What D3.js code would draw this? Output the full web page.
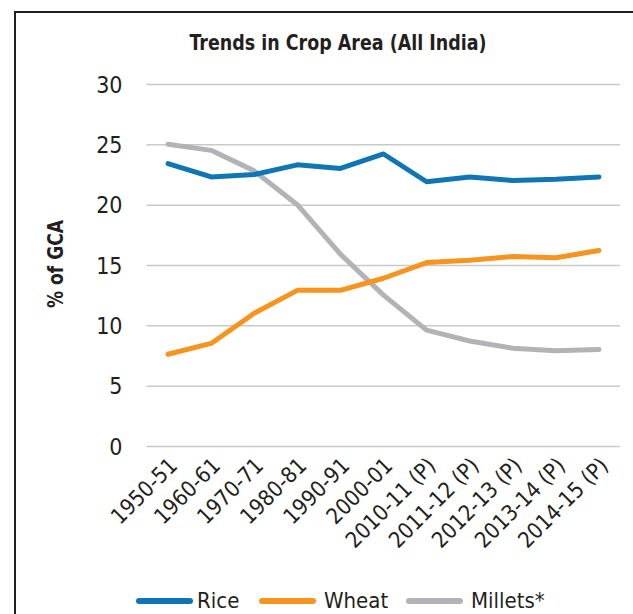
<!DOCTYPE html>
<html>
<head>
<meta charset="utf-8">
<script src="https://cdn.jsdelivr.net/npm/d3@7"></script>
<style>
  html, body { margin: 0; padding: 0; background: #fff; }
  svg { display: block; }
  text { font-family: "DejaVu Sans Condensed", "DejaVu Sans", "Liberation Sans", sans-serif; fill: #231f20; }
</style>
</head>
<body>
<svg id="chart" width="633" height="614"></svg>
<script>
const categories = ["1950-51", "1960-61", "1970-71", "1980-81", "1990-91", "2000-01",
  "2010-11 (P)", "2011-12 (P)", "2012-13 (P)", "2013-14 (P)", "2014-15 (P)"];
const rice    = [23.4, 22.3, 22.5, 23.3, 23.0, 24.2, 21.9, 22.3, 22.0, 22.1, 22.3];
const wheat   = [7.6, 8.5, 11.0, 12.9, 12.9, 13.9, 15.2, 15.4, 15.7, 15.6, 16.2];
const millets = [25.0, 24.5, 22.8, 20.0, 15.9, 12.5, 9.6, 8.7, 8.1, 7.9, 8.0];
const yTicks  = [0, 5, 10, 15, 20, 25, 30];
const seriesNames = ["Rice", "Wheat", "Millets*"];
const seriesColors = ["#1075b5", "#f7941d", "#b2b3b6"];
const title = "Trends in Crop Area (All India)";
const yTitle = "% of GCA";

const series = [rice, wheat, millets].map((vals, i) => ({
  name: seriesNames[i], color: seriesColors[i],
  values: vals.map((v, j) => ({ cat: categories[j], v }))
}));

const svg = d3.select("#chart");

// frame
svg.append("path")
  .attr("d", "M15,640 L15,12 L640,12")
  .attr("fill", "none").attr("stroke", "#231f20").attr("stroke-width", 2);

const x = d3.scalePoint().domain(categories).range([146.5, 620.5]).padding(0.5);
const y = d3.scaleLinear().domain([0, 30]).range([446, 84]);

// title
svg.append("text").attr("x", 338).attr("y", 50).attr("text-anchor", "middle")
  .style("font-size", "21px").style("font-weight", "bold")
  .attr("textLength", 297).attr("lengthAdjust", "spacingAndGlyphs")
  .text(title);

// gridlines + y labels
const yAxis = d3.axisLeft(y).tickValues(yTicks).tickSize(-(620 - 146.5)).tickPadding(24);
const gy = svg.append("g").attr("transform", "translate(146.5,0)").call(yAxis);
gy.select(".domain").remove();
gy.selectAll(".tick line").attr("stroke", "#c9c9c9").attr("stroke-width", 1.5);
gy.selectAll(".tick text").style("font-size", "23px").attr("fill", "#231f20")
  .attr("dy", "0.35em");

// y title
svg.append("text")
  .attr("transform", "translate(63,264) rotate(-90)")
  .attr("text-anchor", "middle")
  .style("font-size", "22px").style("font-weight", "bold")
  .attr("textLength", 88).attr("lengthAdjust", "spacingAndGlyphs")
  .text(yTitle);

// x labels
const xAxis = d3.axisBottom(x).tickSize(0).tickPadding(0);
const gx = svg.append("g").attr("transform", "translate(0,446)").call(xAxis);
gx.select(".domain").remove();
gx.selectAll(".tick text")
  .style("font-size", "22px").attr("fill", "#231f20")
  .attr("text-anchor", "end")
  .attr("dy", null).attr("y", 0)
  .attr("transform", "translate(10,21) rotate(-45)");

// lines
const line = d3.line().x(d => x(d.cat)).y(d => y(d.v));
svg.append("g").selectAll("path").data(series.slice().reverse()).join("path")
  .attr("d", d => line(d.values))
  .attr("fill", "none").attr("stroke", d => d.color)
  .attr("stroke-width", 5).attr("stroke-linejoin", "round").attr("stroke-linecap", "round");

// legend
const legendPos = [{lx: 139, tx: 197}, {lx: 262, tx: 324}, {lx: 409, tx: 471}];
const lg = svg.append("g").selectAll("g").data(series).join("g");
lg.append("line")
  .attr("x1", (d, i) => legendPos[i].lx).attr("x2", (d, i) => legendPos[i].lx + 51)
  .attr("y1", 601).attr("y2", 601)
  .attr("stroke", d => d.color).attr("stroke-width", 6).attr("stroke-linecap", "round");
lg.append("text")
  .attr("x", (d, i) => legendPos[i].tx).attr("y", 608)
  .style("font-size", "22px")
  .text(d => d.name);
</script>
</body>
</html>
